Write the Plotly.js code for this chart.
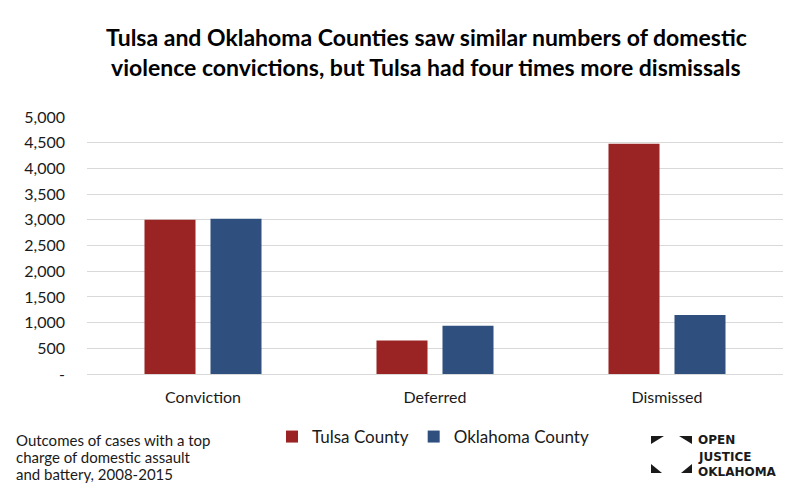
<!DOCTYPE html>
<html>
<head>
<meta charset="utf-8">
<script src="https://cdn.plot.ly/plotly-3.0.1.min.js"></script>
<style>html,body{margin:0;padding:0;background:#fff}#chart{width:800px;height:499px}</style>
</head>
<body>
<div id="chart"></div>
<script>
const categories = ["Conviction", "Deferred", "Dismissed"];
const tulsaValues = [3000, 650, 4480];
const oklahomaValues = [3020, 940, 1150];
const seriesNames = ["Tulsa County", "Oklahoma County"];
const yTickVals = [0, 500, 1000, 1500, 2000, 2500, 3000, 3500, 4000, 4500, 5000];
const yTickText = ["-", "500", "1,000", "1,500", "2,000", "2,500", "3,000", "3,500", "4,000", "4,500", "5,000"];
const titleLines = ["Tulsa and Oklahoma Counties saw similar numbers of domestic",
                    "violence convictions, but Tulsa had four times more dismissals"];
const footnoteLines = ["Outcomes of cases with a top", "charge of domestic assault", "and battery, 2008-2015"];
const logoLines = ["OPEN", "JUSTICE", "OKLAHOMA"];

const W = 800, H = 499;
const M = {l: 87, r: 17, t: 117, b: 125};
const PW = W - M.l - M.r, PH = H - M.t - M.b;
const px = x => (x - M.l) / PW;
const py = y => (H - M.b - y) / PH;

const FONT = "Lato, 'Open Sans', sans-serif";
const RED = "#9a2423";
const BLUE = "#2f507e";

const traces = [
  {type: "bar", name: seriesNames[0], x: categories, y: tulsaValues, marker: {color: RED}, hoverinfo: "skip"},
  {type: "bar", name: seriesNames[1], x: categories, y: oklahomaValues, marker: {color: BLUE}, hoverinfo: "skip"}
];

function tri(pts) {
  return "M" + pts.map(p => px(p[0]) + "," + py(p[1])).join(" L") + " Z";
}
const logoShapes = [
  tri([[651,436],[664,436],[651,444]]),
  tri([[679,436],[692,436],[692,444]]),
  tri([[651,464],[651,473],[662,473]]),
  tri([[692,464],[692,473],[681,473]])
].map(p => ({type: "path", xref: "paper", yref: "paper", path: p, fillcolor: "#1a1a1a", line: {width: 0}}));

const annotations = [
  {text: titleLines[0], x: px(426), y: py(37)},
  {text: titleLines[1], x: px(426), y: py(67)}
].map(a => Object.assign(a, {xref: "paper", yref: "paper", showarrow: false, xanchor: "center", yanchor: "middle",
  font: {family: FONT, size: 23, color: "#000", weight: 700}}));

[440, 457, 474].forEach((yy, i) => annotations.push({text: footnoteLines[i], xref: "paper", yref: "paper", x: px(14), y: py(yy),
  xanchor: "left", yanchor: "middle", showarrow: false, font: {family: FONT, size: 15, color: "#1a1a1a"}}));

[440, 457, 472].forEach((yy, i) => annotations.push({text: logoLines[i], xref: "paper", yref: "paper", x: px(696), y: py(yy),
  xanchor: "left", yanchor: "middle", showarrow: false, font: {family: "'DejaVu Sans', sans-serif", size: 12, color: "#1a1a1a", weight: 700}}));

const layout = {
  width: W, height: H,
  margin: M,
  paper_bgcolor: "#fff", plot_bgcolor: "#fff",
  barmode: "group", bargap: 0.431, bargroupgap: 0.227,
  font: {family: FONT, color: "#1a1a1a"},
  showlegend: true,
  legend: {orientation: "h", x: px(272), y: py(437), xanchor: "left", yanchor: "middle",
    font: {family: FONT, size: 17, color: "#1a1a1a"}, itemwidth: 30, bgcolor: "rgba(0,0,0,0)"},
  xaxis: {type: "category", showgrid: false, zeroline: false, showline: false, ticks: "",
    tickfont: {family: FONT, size: 16, color: "#1a1a1a"}, ticklabelstandoff: 12, fixedrange: true},
  yaxis: {range: [0, 5000], tickvals: yTickVals, ticktext: yTickText, showgrid: true, gridcolor: "#d9d9d9", gridwidth: 1,
    zeroline: true, zerolinecolor: "#d9d9d9", zerolinewidth: 1, showline: false, ticks: "",
    tickfont: {family: FONT, size: 16, color: "#1a1a1a"}, ticklabelstandoff: 21, fixedrange: true},
  shapes: logoShapes,
  annotations: annotations
};

Plotly.newPlot("chart", traces, layout, {displayModeBar: false, staticPlot: true});
</script>
</body>
</html>
